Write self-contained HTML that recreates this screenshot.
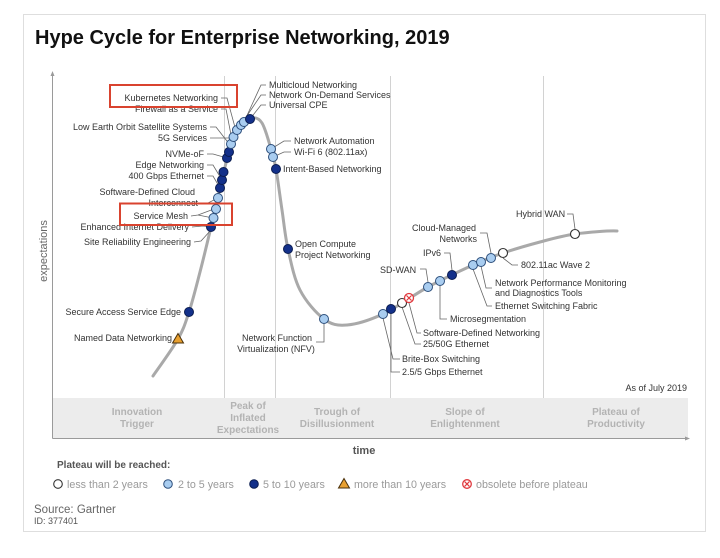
<!DOCTYPE html>
<html><head><meta charset="utf-8"><style>
html,body{margin:0;padding:0;background:#fff;}
svg{display:block;}
text{font-family:"Liberation Sans",Arial,sans-serif;}
.l{font-size:9px;fill:#333;}
.ph{font-size:10px;font-weight:bold;fill:#b3b3b3;}
.lg{font-size:10.7px;fill:#9a9a9a;}
.ld{stroke:#666;stroke-width:0.8;fill:none;}
.lt{fill:#a9cdf0;stroke:#2d4f7c;stroke-width:1;}
.dk{fill:#13308a;stroke:#0a1c50;stroke-width:1;}
.wh{fill:#fff;stroke:#333;stroke-width:1.1;}
</style></head><body>
<svg width="720" height="558" viewBox="0 0 720 558" xmlns="http://www.w3.org/2000/svg">
<rect x="0" y="0" width="720" height="558" fill="#fff"/>
<rect x="23.5" y="14.5" width="682" height="517" fill="#fff" stroke="#dedede" stroke-width="1"/>
<text x="35" y="44" font-size="20" font-weight="bold" fill="#111">Hype Cycle for Enterprise Networking, 2019</text>

<!-- phase band -->
<rect x="52" y="398" width="636" height="40" fill="#ececec"/>
<!-- dividers -->
<g stroke="#d2d2d2" stroke-width="1">
<line x1="224.5" y1="76" x2="224.5" y2="398"/>
<line x1="275.5" y1="76" x2="275.5" y2="398"/>
<line x1="390.5" y1="76" x2="390.5" y2="398"/>
<line x1="543.5" y1="76" x2="543.5" y2="398"/>
</g>
<!-- axes -->
<g stroke="#9a9a9a" stroke-width="1" fill="none">
<line x1="52.5" y1="73" x2="52.5" y2="438.5"/>
<line x1="52.5" y1="438.5" x2="688" y2="438.5"/>
</g>
<path d="M52.5,71 L50.5,76 L54.5,76 Z" fill="#9a9a9a"/>
<path d="M690,438.5 L685,436.5 L685,440.5 Z" fill="#9a9a9a"/>

<text transform="translate(47,251) rotate(-90)" text-anchor="middle" font-size="11" fill="#666">expectations</text>
<text x="364" y="454" text-anchor="middle" font-size="11" font-weight="bold" fill="#555">time</text>
<text x="687" y="391" text-anchor="end" font-size="9" fill="#333">As of July 2019</text>

<!-- phase labels -->
<text class="ph" x="137" y="415" text-anchor="middle">Innovation</text>
<text class="ph" x="137" y="427" text-anchor="middle">Trigger</text>
<text class="ph" x="248" y="409" text-anchor="middle">Peak of</text>
<text class="ph" x="248" y="421" text-anchor="middle">Inflated</text>
<text class="ph" x="248" y="433" text-anchor="middle">Expectations</text>
<text class="ph" x="337" y="415" text-anchor="middle">Trough of</text>
<text class="ph" x="337" y="427" text-anchor="middle">Disillusionment</text>
<text class="ph" x="465" y="415" text-anchor="middle">Slope of</text>
<text class="ph" x="465" y="427" text-anchor="middle">Enlightenment</text>
<text class="ph" x="616" y="415" text-anchor="middle">Plateau of</text>
<text class="ph" x="616" y="427" text-anchor="middle">Productivity</text>

<!-- curve -->
<path d="M153,376 C157.2,369.8 172,349.7 178,339 C184,328.3 185.3,323.2 189,312 C192.7,300.8 196.3,286.2 200,272 C203.7,257.8 207.7,241 211,227 C214.3,213 217,200.5 220,188 C223,175.5 226,162 229,152 C232,142 234.3,133.7 238,128 C241.7,122.3 247,118.8 251,118 C255,117.2 258.7,117.8 262,123 C265.3,128.2 268.7,141.3 271,149 C273.3,156.7 274.2,158.8 276,169 C277.8,179.2 280,196.7 282,210 C284,223.3 285,235.7 288,249 C291,262.3 294,278.3 300,290 C306,301.7 316.2,313.2 324,319 C331.8,324.8 337.2,325.8 347,325 C356.8,324.2 369.5,320.3 383,314 C396.5,307.7 413,295.2 428,287 C443,278.8 460.5,270.7 473,265 C485.5,259.3 491.8,256.8 503,253 C514.2,249.2 528,245.2 540,242 C552,238.8 562.2,235.8 575,234 C587.8,232.2 610,230.5 617,231" fill="none" stroke="#a9a9a9" stroke-width="3" stroke-linecap="round"/>

<!-- leaders -->
<g class="ld">
<polyline points="221,98 227,98 236,131"/>
<polyline points="221,109 226,109 232,140"/>
<polyline points="210,127 216,127 230,145"/>
<polyline points="210,138 216,138 233,138"/>
<polyline points="207,154 213,154 227,158"/>
<polyline points="207,165 213,165 222,180"/>
<polyline points="207,176 213,176 220,188"/>
<polyline points="199,204 206,204 218,198"/>
<polyline points="191,216 198,215 214,209"/>
<polyline points="198,215 213,218"/>
<polyline points="192,227 203,226 211,227"/>
<polyline points="194,242 201,241 211,230"/>
<polyline points="266,85 261,85 244,122"/>
<polyline points="266,95 261,95 240,126"/>
<polyline points="266,105 261,105 250,119"/>
<polyline points="291,141 284,141 271,149"/>
<polyline points="291,152 284,152 273,157"/>
<polyline points="324,324 324,342 316,342"/>
<polyline points="567,214 573,214 575,229"/>
<polyline points="480,233 487,233 491,253"/>
<polyline points="444,253 450,253 452,270"/>
<polyline points="420,269 426,269 428,282"/>
<polyline points="503,258 512,265 518,265"/>
<polyline points="481,266 486,288 492,288"/>
<polyline points="473,269 487,306 492,306"/>
<polyline points="440,286 440,319 447,319"/>
<polyline points="409,303 417,333 421,333"/>
<polyline points="402,307 415,344 421,344"/>
<polyline points="383,318 393,359 400,359"/>
<polyline points="391,313 391,372 400,372"/>
</g>

<!-- dots -->
<g>
<circle class="dk" cx="189" cy="312" r="4.5"/>
<path d="M178,333.5 L183.5,343 L172.5,343 Z" fill="#e8a030" stroke="#4a300a" stroke-width="1"/>
<circle class="dk" cx="211" cy="227" r="4.5"/>
<circle class="lt" cx="213.5" cy="218" r="4.5"/>
<circle class="lt" cx="216" cy="209" r="4.5"/>
<circle class="lt" cx="218" cy="198" r="4.5"/>
<circle class="dk" cx="220" cy="188" r="4.5"/>
<circle class="dk" cx="222" cy="180" r="4.5"/>
<circle class="dk" cx="223.5" cy="172" r="4.5"/>
<circle class="dk" cx="227" cy="158" r="4.5"/>
<circle class="dk" cx="229" cy="152" r="4.5"/>
<circle class="lt" cx="231" cy="144" r="4.5"/>
<circle class="lt" cx="233.5" cy="137" r="4.5"/>
<circle class="lt" cx="237" cy="130" r="4.5"/>
<circle class="lt" cx="241" cy="125" r="4.5"/>
<circle class="lt" cx="244" cy="122" r="4.5"/>
<circle class="dk" cx="250" cy="119" r="4.5"/>
<circle class="lt" cx="271" cy="149" r="4.5"/>
<circle class="lt" cx="273" cy="157" r="4.5"/>
<circle class="dk" cx="276" cy="169" r="4.5"/>
<circle class="dk" cx="288" cy="249" r="4.5"/>
<circle class="lt" cx="324" cy="319" r="4.5"/>
<circle class="lt" cx="383" cy="314" r="4.5"/>
<circle class="dk" cx="391" cy="309" r="4.5"/>
<circle class="wh" cx="402" cy="303" r="4.5"/>
<g><circle cx="409" cy="298" r="4.5" fill="#fff" stroke="#e0393e" stroke-width="1.3"/><path d="M406.5,295.5 L411.5,300.5 M411.5,295.5 L406.5,300.5" stroke="#e0393e" stroke-width="1.2"/></g>
<circle class="lt" cx="428" cy="287" r="4.5"/>
<circle class="lt" cx="440" cy="281" r="4.5"/>
<circle class="dk" cx="452" cy="275" r="4.5"/>
<circle class="lt" cx="473" cy="265" r="4.5"/>
<circle class="lt" cx="481" cy="262" r="4.5"/>
<circle class="lt" cx="491" cy="258" r="4.5"/>
<circle class="wh" cx="503" cy="253" r="4.5"/>
<circle class="wh" cx="575" cy="234" r="4.5"/>
</g>

<!-- labels left -->
<g class="l" text-anchor="end">
<text x="218" y="101">Kubernetes Networking</text>
<text x="218" y="112">Firewall as a Service</text>
<text x="207" y="130">Low Earth Orbit Satellite Systems</text>
<text x="207" y="141">5G Services</text>
<text x="204" y="157">NVMe-oF</text>
<text x="204" y="168">Edge Networking</text>
<text x="204" y="179">400 Gbps Ethernet</text>
<text x="195" y="195">Software-Defined Cloud</text>
<text x="198" y="206">Interconnect</text>
<text x="188" y="219">Service Mesh</text>
<text x="189" y="230">Enhanced Internet Delivery</text>
<text x="191" y="245">Site Reliability Engineering</text>
<text x="181" y="315">Secure Access Service Edge</text>
<text x="172" y="341">Named Data Networking</text>
<text x="476" y="231">Cloud-Managed</text>
<text x="477" y="242">Networks</text>
</g>
<g class="l">
<text x="269" y="88">Multicloud Networking</text>
<text x="269" y="98">Network On-Demand Services</text>
<text x="269" y="108">Universal CPE</text>
<text x="294" y="144">Network Automation</text>
<text x="294" y="155">Wi-Fi 6 (802.11ax)</text>
<text x="283" y="172">Intent-Based Networking</text>
<text x="295" y="247">Open Compute</text>
<text x="295" y="258">Project Networking</text>
<text x="277" y="341" text-anchor="middle">Network Function</text>
<text x="276" y="352" text-anchor="middle">Virtualization (NFV)</text>
<text x="516" y="217">Hybrid WAN</text>
<text x="423" y="256">IPv6</text>
<text x="380" y="273">SD-WAN</text>
<text x="521" y="268">802.11ac Wave 2</text>
<text x="495" y="286">Network Performance Monitoring</text>
<text x="495" y="296">and Diagnostics Tools</text>
<text x="495" y="309">Ethernet Switching Fabric</text>
<text x="450" y="322">Microsegmentation</text>
<text x="423" y="336">Software-Defined Networking</text>
<text x="423" y="347">25/50G Ethernet</text>
<text x="402" y="362">Brite-Box Switching</text>
<text x="402" y="375">2.5/5 Gbps Ethernet</text>
</g>

<!-- red highlight boxes -->
<rect x="110" y="85" width="127" height="22" fill="none" stroke="#d9432f" stroke-width="2"/>
<rect x="120" y="203.5" width="112" height="21.5" fill="none" stroke="#d9432f" stroke-width="2"/>

<!-- legend -->
<text x="57" y="468" font-size="10" font-weight="bold" fill="#555">Plateau will be reached:</text>
<circle class="wh" cx="58" cy="484" r="4.3"/>
<text class="lg" x="67" y="488">less than 2 years</text>
<circle class="lt" cx="168" cy="484" r="4.3"/>
<text class="lg" x="178" y="488">2 to 5 years</text>
<circle class="dk" cx="254" cy="484" r="4.3"/>
<text class="lg" x="263" y="488">5 to 10 years</text>
<path d="M344,478.5 L349.5,488 L338.5,488 Z" fill="#e8a030" stroke="#4a300a" stroke-width="1"/>
<text class="lg" x="354" y="488">more than 10 years</text>
<circle cx="467" cy="484" r="4.3" fill="#fff" stroke="#e0393e" stroke-width="1.3"/>
<path d="M464.6,481.6 L469.4,486.4 M469.4,481.6 L464.6,486.4" stroke="#e0393e" stroke-width="1.2"/>
<text class="lg" x="476" y="488">obsolete before plateau</text>

<text x="34" y="513" font-size="11.5" fill="#666">Source: Gartner</text>
<text x="34" y="524" font-size="9" fill="#555">ID: 377401</text>
</svg>
</body></html>
